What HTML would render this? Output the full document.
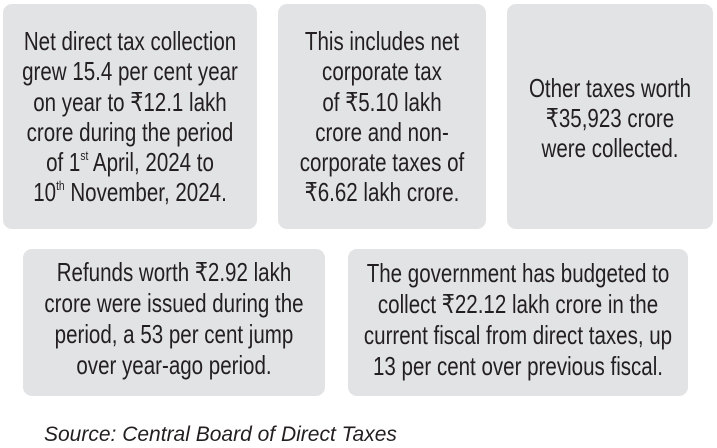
<!DOCTYPE html>
<html>
<head>
<meta charset="utf-8">
<style>
  html, body { margin: 0; padding: 0; background: #ffffff; }
  body { width: 717px; height: 448px; position: relative; overflow: hidden;
         font-family: "Liberation Sans", "DejaVu Sans", sans-serif; color: #231f20; }
  .box { position: absolute; background: #e2e3e5; border-radius: 9px; }
  .txt { position: absolute; left: -120px; right: -120px; text-align: center;
         font-size: 26px; transform: scaleX(0.79); transform-origin: 50% 0; white-space: nowrap; }
  .txt div { white-space: nowrap; height: inherit; }
  .l30 div { height: 30.3px; line-height: 30.3px; }
  .l31 div { height: 31px; line-height: 31px; }
  sup { font-size: 13px; line-height: 0; vertical-align: baseline; position: relative; top: -11px; }
  .src { position: absolute; left: 44px; top: 424px; font-size: 21px; line-height: 21px;
         font-style: italic; color: #231f20; white-space: nowrap; }
</style>
</head>
<body>
  <div class="box" style="left:3px; top:4px; width:254px; height:225px;">
    <div class="txt l30" style="top:22px;">
      <div>Net direct tax collection</div>
      <div>grew 15.4 per cent year</div>
      <div>on year to ₹12.1 lakh</div>
      <div>crore during the period</div>
      <div>of 1<sup>st</sup> April, 2024 to</div>
      <div>10<sup>th</sup> November, 2024.</div>
    </div>
  </div>
  <div class="box" style="left:278px; top:4px; width:208px; height:225px;">
    <div class="txt l30" style="top:22px;">
      <div>This includes net</div>
      <div>corporate tax</div>
      <div>of ₹5.10 lakh</div>
      <div>crore and non-</div>
      <div>corporate taxes of</div>
      <div>₹6.62 lakh crore.</div>
    </div>
  </div>
  <div class="box" style="left:507px; top:4px; width:206px; height:225px;">
    <div class="txt l30" style="top:68.5px;">
      <div>Other taxes worth</div>
      <div>₹35,923 crore</div>
      <div>were collected.</div>
    </div>
  </div>
  <div class="box" style="left:23px; top:249px; width:302px; height:147px;">
    <div class="txt l31" style="top:8px;">
      <div>Refunds worth ₹2.92 lakh</div>
      <div>crore were issued during the</div>
      <div>period, a 53 per cent jump</div>
      <div>over year-ago period.</div>
    </div>
  </div>
  <div class="box" style="left:348px; top:249px; width:340px; height:147px;">
    <div class="txt l31" style="top:9px;">
      <div>The government has budgeted to</div>
      <div>collect ₹22.12 lakh crore in the</div>
      <div>current fiscal from direct taxes, up</div>
      <div>13 per cent over previous fiscal.</div>
    </div>
  </div>
  <div class="src">Source: Central Board of Direct Taxes</div>
</body>
</html>
